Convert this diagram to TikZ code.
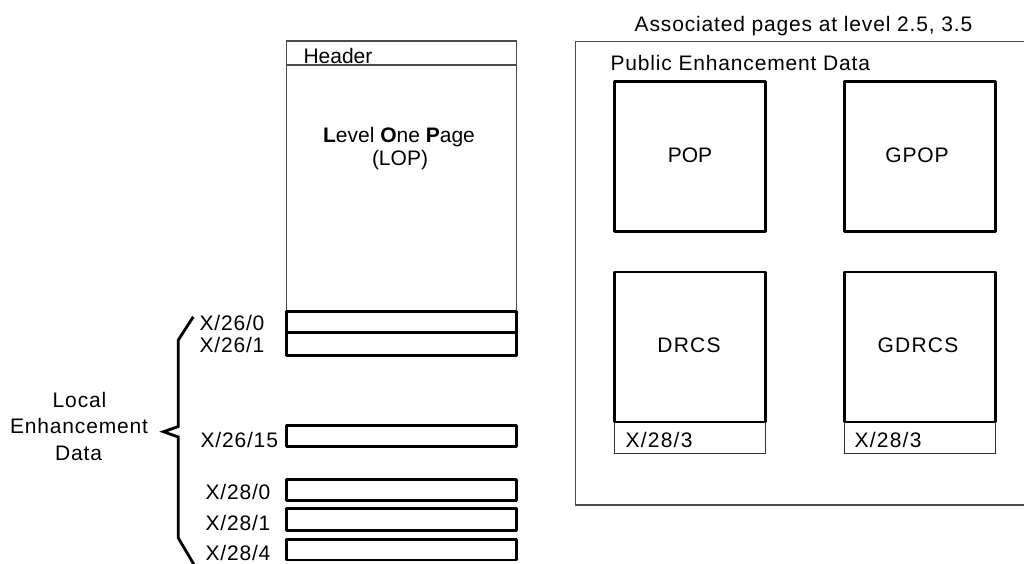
\documentclass[tikz,border=0pt]{standalone}
\usepackage{fontspec}
\setmainfont{Liberation Sans}
\newfontfamily\spfont{Liberation Sans}[LetterSpace=4]
\newfontfamily\spwfont{Liberation Sans}[LetterSpace=6]
\begin{document}
\begin{tikzpicture}[x=1pt,y=-1pt,
  lbl/.style={font=\fontsize{21}{26}\selectfont, inner sep=0pt, outer sep=0pt},
  slbl/.style={font=\fontsize{21}{26}\spfont, inner sep=0pt, outer sep=0pt},
  wlbl/.style={font=\fontsize{21}{26}\spwfont, inner sep=0pt, outer sep=0pt},
  thickbox/.style={draw=black, line width=2.8pt, line join=round, inner sep=0pt, outer sep=0pt, minimum width=230pt},
  bigbox/.style={draw=black, line width=2.8pt, line join=round, inner sep=0pt, outer sep=0pt, minimum width=151pt, minimum height=150pt},
  thinline/.style={draw=black!70, line width=1.1pt},
]
\useasboundingbox (0,0) rectangle (1024,563);

% ---- Level One Page ----
\node[thinline, draw, inner sep=0pt, outer sep=0pt, minimum width=230pt, minimum height=270.5pt] (lop) at (401.5,176.25) {};
\draw[thinline] (286.5,65) -- (516.5,65);
\node[lbl, anchor=base west] (hdr) at (303.5,63) {Header};
\node[lbl, anchor=base] (lop1) at (399,142) {\textbf{L}evel \textbf{O}ne \textbf{P}age};
\node[lbl, anchor=base] (lop2) at (400,165) {(LOP)};

% ---- local enhancement packets ----
\node[thickbox, minimum height=21pt] (r260) at (401.5,322) {};
\node[thickbox, minimum height=23pt] (r261) at (401.5,344) {};
\node[thickbox, minimum height=21pt] (r2615) at (401.5,436) {};
\node[thickbox, minimum height=21pt] (r280) at (401.5,490) {};
\node[thickbox, minimum height=22pt] (r281) at (401.5,519.5) {};
\node[thickbox, minimum height=20.5pt] (r284) at (401.5,549.75) {};

\node[slbl, anchor=base west] (t260) at (199.5,330) {X/26/0};
\node[slbl, anchor=base west] (t261) at (199.5,352) {X/26/1};
\node[slbl, anchor=base west] (t2615) at (200.5,447) {X/26/15};
\node[slbl, anchor=base west] (t280) at (205.5,499.5) {X/28/0};
\node[slbl, anchor=base west] (t281) at (205.5,530) {X/28/1};
\node[slbl, anchor=base west] (t284) at (205.5,560) {X/28/4};

% brace
\draw[line width=2.8pt, line join=miter] (193.3,316.7) -- (178.3,340) -- (178.3,426.5) -- (163.5,431.7) -- (178.3,437) -- (178.3,538) -- (196,568);

\node[slbl, anchor=base] (loc1) at (79.5,407) {Local};
\node[slbl, anchor=base] (loc2) at (79,433) {Enhancement};
\node[slbl, anchor=base] (loc3) at (78.5,460) {Data};

% ---- Public enhancement data ----
\draw[thinline] (1030,41.5) -- (575.5,41.5) -- (575.5,505) -- (1030,505);
\node[slbl, anchor=base] (assoc) at (803.5,31) {Associated pages at level 2.5, 3.5};
\node[slbl, anchor=base west] (pub) at (610.5,70) {Public Enhancement Data};

\node[bigbox] (pop) at (690,156.5) {};
\node[bigbox] (gpop) at (920,156.5) {};
\node[bigbox] (drcs) at (690,347) {};
\node[bigbox] (gdrcs) at (920,347) {};
\node[lbl, anchor=base] (poptxt) at (690,162) {POP};
\node[slbl, anchor=base] (gpoptxt) at (917,162) {GPOP};
\node[wlbl, anchor=base] (drcstxt) at (689,352) {DRCS};
\node[wlbl, anchor=base] (gdrcstxt) at (918,352) {GDRCS};

\draw[black!80, line width=1pt] (drcs.south west) -- ++(0,31.5) -| (drcs.south east);
\draw[black!80, line width=1pt] (gdrcs.south west) -- ++(0,31.5) -| (gdrcs.south east);
\node[wlbl, anchor=base west] (x283a) at (625.5,447) {X/28/3};
\node[wlbl, anchor=base west] (x283b) at (854.5,447) {X/28/3};
\end{tikzpicture}
\end{document}
